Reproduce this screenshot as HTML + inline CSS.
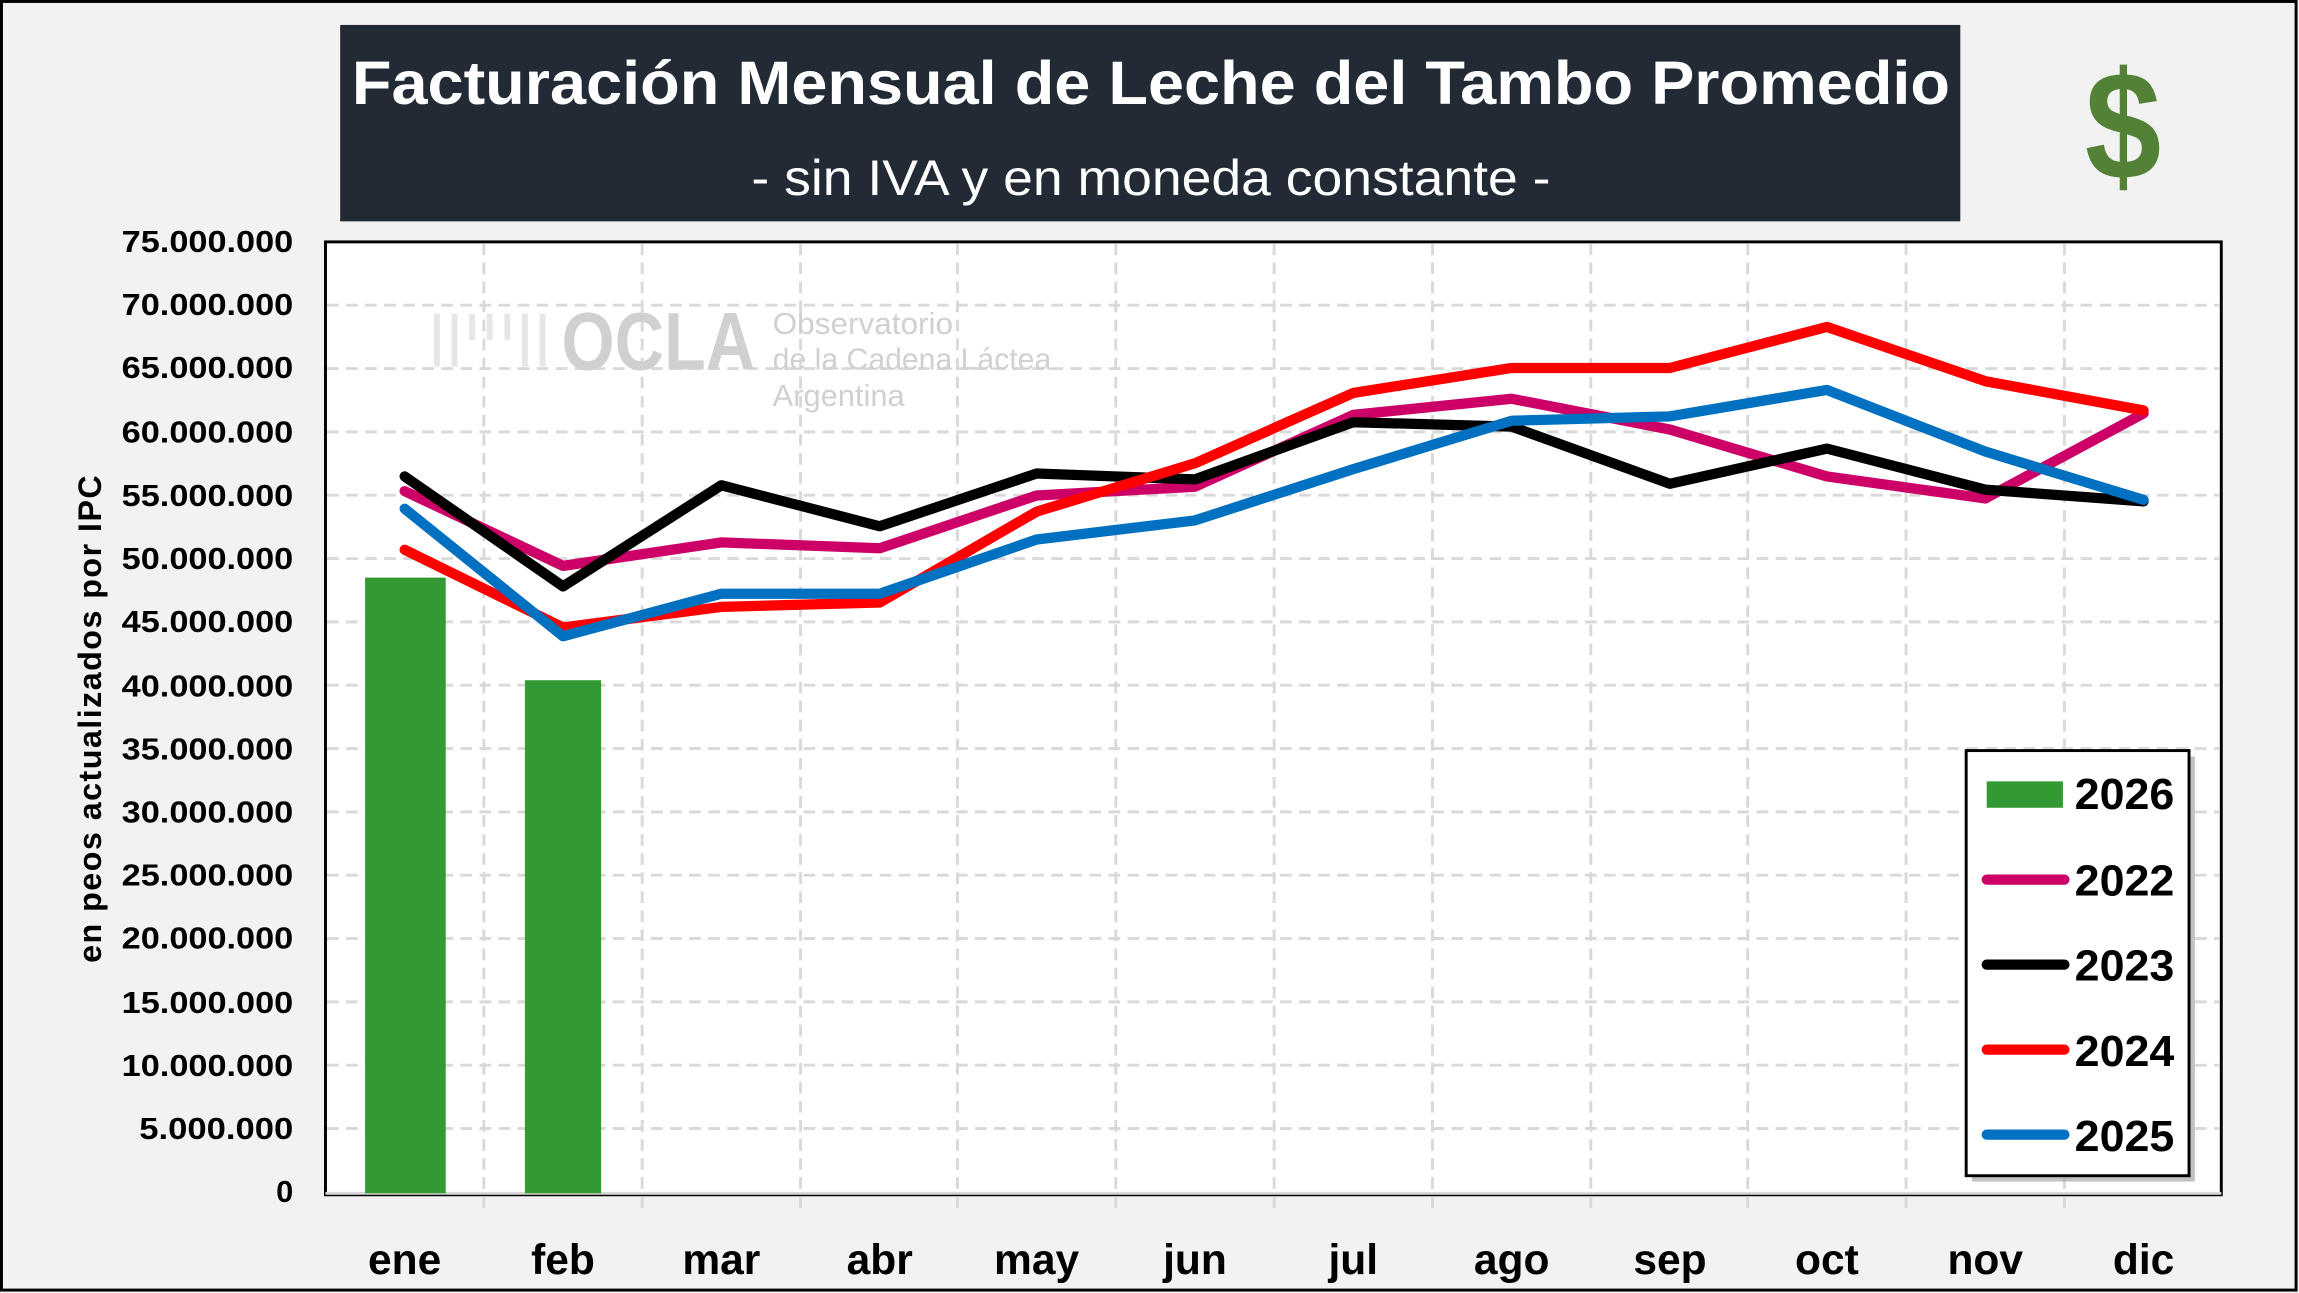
<!DOCTYPE html>
<html><head><meta charset="utf-8"><style>html,body{margin:0;padding:0;background:#f2f2f2}svg{display:block}</style></head><body>
<svg width="2299" height="1293" viewBox="0 0 1568 882" preserveAspectRatio="none" xmlns="http://www.w3.org/2000/svg" font-family="Liberation Sans, sans-serif">
<rect x="0" y="0" width="1568" height="882" fill="#f2f2f2"/>
<rect x="1" y="1" width="1565" height="879" fill="none" stroke="#000" stroke-width="2"/>
<rect x="232" y="17" width="1105" height="134" fill="#222a35"/>
<text x="785" y="71" text-anchor="middle" fill="#fff" font-size="42" font-weight="bold" textLength="1090" lengthAdjust="spacingAndGlyphs">Facturación Mensual de Leche del Tambo Promedio</text>
<text x="785" y="133" text-anchor="middle" fill="#fff" font-size="34" textLength="545" lengthAdjust="spacingAndGlyphs">- sin IVA y en moneda constante -</text>
<text x="1448" y="122" text-anchor="middle" fill="#538135" font-size="105" font-weight="bold" textLength="52" lengthAdjust="spacingAndGlyphs">$</text>
<rect x="222" y="165" width="1293" height="650" fill="#fff" stroke="#000" stroke-width="2"/>
<g stroke="#d9d9d9" stroke-width="2" stroke-dasharray="8,5">
<line x1="223" x2="1514" y1="208.2" y2="208.2"/><line x1="223" x2="1514" y1="251.4" y2="251.4"/><line x1="223" x2="1514" y1="294.6" y2="294.6"/><line x1="223" x2="1514" y1="337.8" y2="337.8"/><line x1="223" x2="1514" y1="381" y2="381"/><line x1="223" x2="1514" y1="424.2" y2="424.2"/><line x1="223" x2="1514" y1="467.4" y2="467.4"/><line x1="223" x2="1514" y1="510.6" y2="510.6"/><line x1="223" x2="1514" y1="553.8" y2="553.8"/><line x1="223" x2="1514" y1="597" y2="597"/><line x1="223" x2="1514" y1="640.2" y2="640.2"/><line x1="223" x2="1514" y1="683.4" y2="683.4"/><line x1="223" x2="1514" y1="726.6" y2="726.6"/><line x1="223" x2="1514" y1="769.8" y2="769.8"/>
<line y1="166" y2="825" x1="330" x2="330"/><line y1="166" y2="825" x1="438" x2="438"/><line y1="166" y2="825" x1="546" x2="546"/><line y1="166" y2="825" x1="653" x2="653"/><line y1="166" y2="825" x1="761" x2="761"/><line y1="166" y2="825" x1="869" x2="869"/><line y1="166" y2="825" x1="977" x2="977"/><line y1="166" y2="825" x1="1085" x2="1085"/><line y1="166" y2="825" x1="1192" x2="1192"/><line y1="166" y2="825" x1="1300" x2="1300"/><line y1="166" y2="825" x1="1408" x2="1408"/>
</g>
<line x1="222" x2="1515" y1="814" y2="814" stroke="#d9d9d9" stroke-width="2"/>
<g fill="#d0d0d0">
<text x="383" y="252" font-size="56" font-weight="bold" textLength="132" lengthAdjust="spacingAndGlyphs">OCLA</text>
<text x="527" y="228" font-size="21" textLength="123" lengthAdjust="spacingAndGlyphs">Observatorio</text>
<text x="527" y="252" font-size="21" textLength="190" lengthAdjust="spacingAndGlyphs">de la Cadena Láctea</text>
<text x="527" y="277" font-size="21" textLength="90" lengthAdjust="spacingAndGlyphs">Argentina</text>
<path d="M298 250 V214 M310 250 V214 M322 232 V214 M334 232 V214 M346 232 V214 M358 250 V214 M370 250 V214" stroke="#e6e6e6" stroke-width="4" fill="none"/>
</g>
<rect x="249" y="394" width="55" height="420" fill="#339933"/>
<rect x="358" y="464" width="52" height="350" fill="#339933"/>
<g fill="none" stroke-width="7" stroke-linejoin="round" stroke-linecap="round">
<polyline stroke="#cc0066" points="276,335 384,386 492,370 600,374 707,338 815,332 923,283 1031,272 1139,293 1246,325 1354,340 1462,282"/>
<polyline stroke="#000" points="276,325 384,400 492,331 600,359 707,323 815,327 923,288 1031,291 1139,330 1246,306 1354,334 1462,342"/>
<polyline stroke="#ff0000" points="276,375 384,428 492,414 600,411 707,349 815,316 923,268 1031,251 1139,251 1246,223 1354,260 1462,280"/>
<polyline stroke="#0070c0" points="276,347 384,434 492,405 600,405 707,368 815,355 923,320 1031,287 1139,284 1246,266 1354,308 1462,341"/>
</g>
<g font-size="21" text-anchor="end" fill="#000" font-weight="bold">
<text x="200" y="172" textLength="117" lengthAdjust="spacingAndGlyphs">75.000.000</text><text x="200" y="215" textLength="117" lengthAdjust="spacingAndGlyphs">70.000.000</text><text x="200" y="258" textLength="117" lengthAdjust="spacingAndGlyphs">65.000.000</text><text x="200" y="302" textLength="117" lengthAdjust="spacingAndGlyphs">60.000.000</text><text x="200" y="345" textLength="117" lengthAdjust="spacingAndGlyphs">55.000.000</text><text x="200" y="388" textLength="117" lengthAdjust="spacingAndGlyphs">50.000.000</text><text x="200" y="431" textLength="117" lengthAdjust="spacingAndGlyphs">45.000.000</text><text x="200" y="475" textLength="117" lengthAdjust="spacingAndGlyphs">40.000.000</text><text x="200" y="518" textLength="117" lengthAdjust="spacingAndGlyphs">35.000.000</text><text x="200" y="561" textLength="117" lengthAdjust="spacingAndGlyphs">30.000.000</text><text x="200" y="604" textLength="117" lengthAdjust="spacingAndGlyphs">25.000.000</text><text x="200" y="647" textLength="117" lengthAdjust="spacingAndGlyphs">20.000.000</text><text x="200" y="691" textLength="117" lengthAdjust="spacingAndGlyphs">15.000.000</text><text x="200" y="734" textLength="117" lengthAdjust="spacingAndGlyphs">10.000.000</text><text x="200" y="777" textLength="105" lengthAdjust="spacingAndGlyphs">5.000.000</text><text x="200" y="820">0</text>
</g>
<text transform="translate(69,490) rotate(-90)" text-anchor="middle" font-size="22" font-weight="bold" letter-spacing="1">en peos actualizados por IPC</text>
<g font-size="29" text-anchor="middle" fill="#000" font-weight="bold">
<text x="276" y="869">ene</text><text x="384" y="869">feb</text><text x="492" y="869">mar</text><text x="600" y="869">abr</text><text x="707" y="869">may</text><text x="815" y="869">jun</text><text x="923" y="869">jul</text><text x="1031" y="869">ago</text><text x="1139" y="869">sep</text><text x="1246" y="869">oct</text><text x="1354" y="869">nov</text><text x="1462" y="869">dic</text>
</g>
<rect x="1345" y="516" width="152" height="290" fill="#999" opacity="0.6"/>
<rect x="1341" y="512" width="152" height="290" fill="#fff" stroke="#000" stroke-width="2"/>
<rect x="1355" y="533" width="52" height="18" fill="#339933"/>
<g stroke-width="7" stroke-linecap="round">
<line x1="1355" x2="1408" y1="600" y2="600" stroke="#cc0066"/>
<line x1="1355" x2="1408" y1="658" y2="658" stroke="#000"/>
<line x1="1355" x2="1408" y1="716" y2="716" stroke="#ff0000"/>
<line x1="1355" x2="1408" y1="774" y2="774" stroke="#0070c0"/>
</g>
<g font-size="30" fill="#000" font-weight="bold">
<text x="1415" y="552" textLength="68" lengthAdjust="spacingAndGlyphs">2026</text><text x="1415" y="611" textLength="68" lengthAdjust="spacingAndGlyphs">2022</text><text x="1415" y="669" textLength="68" lengthAdjust="spacingAndGlyphs">2023</text><text x="1415" y="727" textLength="68" lengthAdjust="spacingAndGlyphs">2024</text><text x="1415" y="785" textLength="68" lengthAdjust="spacingAndGlyphs">2025</text>
</g>
</svg>
</body></html>
